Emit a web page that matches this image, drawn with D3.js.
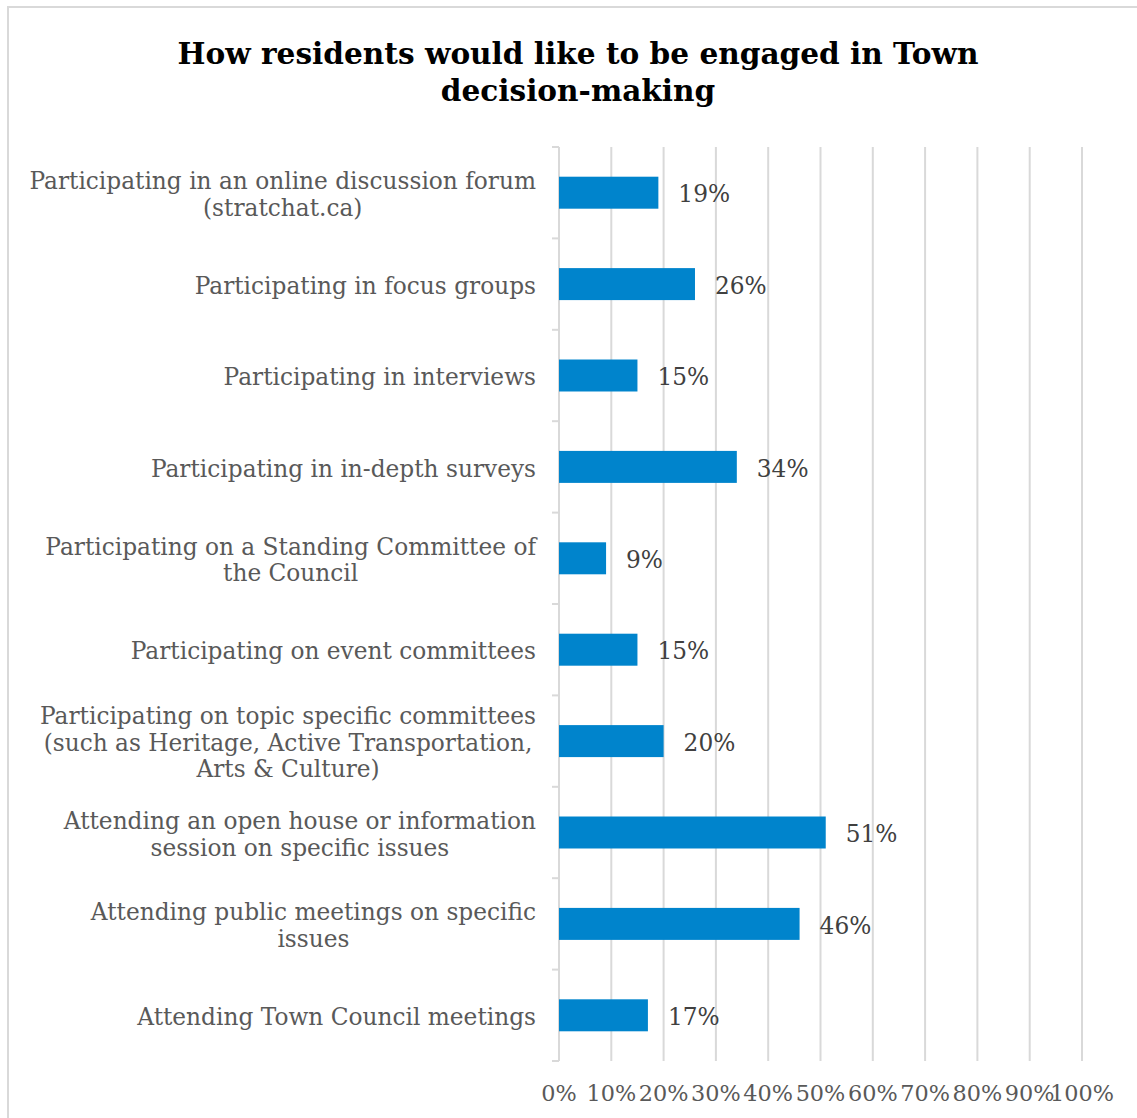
<!DOCTYPE html>
<html>
<head>
<meta charset="utf-8">
<script src="https://cdn.jsdelivr.net/npm/d3@7"></script>
<style>
  html, body { margin: 0; padding: 0; background: #fff; }
  svg { display: block; }
</style>
</head>
<body>
<svg id="chart" width="1137" height="1118"></svg>
<script>
// Survey responses: share of residents choosing each engagement method
const titleLines = ["How residents would like to be engaged in Town", "decision-making"];

const categories = [
  ["Participating in an online discussion forum", "(stratchat.ca)"],
  ["Participating in focus groups"],
  ["Participating in interviews"],
  ["Participating in in-depth surveys"],
  ["Participating on a Standing Committee of", "the Council"],
  ["Participating on event committees"],
  ["Participating on topic specific committees", "(such as Heritage, Active Transportation,", "Arts & Culture)"],
  ["Attending an open house or information", "session on specific issues"],
  ["Attending public meetings on specific", "issues"],
  ["Attending Town Council meetings"]
];

const values = [0.19, 0.26, 0.15, 0.34, 0.09, 0.15, 0.20, 0.51, 0.46, 0.17];

const tickValues = [0, 0.1, 0.2, 0.3, 0.4, 0.5, 0.6, 0.7, 0.8, 0.9, 1.0];

const svg = d3.select("#chart");
const serif = "'DejaVu Serif', 'Liberation Serif', serif";

// Outer chart frame
svg.append("rect")
  .attr("x", 8).attr("y", 7)
  .attr("width", 1160).attr("height", 1140)
  .attr("fill", "none")
  .attr("stroke", "#d9d9d9")
  .attr("stroke-width", 2);

// Plot area
const plot = { left: 559, right: 1082, top: 147, bottom: 1061 };

const x = d3.scaleLinear().domain([0, 1]).range([plot.left, plot.right]);
const y = d3.scaleBand()
  .domain(d3.range(categories.length))
  .range([plot.top, plot.bottom])
  .paddingInner(0.65)
  .paddingOuter(0.325);
const step = y.step();

// Font size helper: pick the size that gives a line a given width
function fitSize(text, family, weight, targetWidth, base) {
  const t = svg.append("text")
    .attr("font-family", family).attr("font-weight", weight)
    .attr("font-size", base).text(text);
  const w = t.node().getComputedTextLength();
  t.remove();
  return base * targetWidth / w;
}

const labelSize = fitSize(categories[0][0], serif, "normal", 507, 20);

// Vertical gridlines
svg.append("g")
  .selectAll("line")
  .data(tickValues.slice(1))
  .join("line")
  .attr("x1", d => x(d)).attr("x2", d => x(d))
  .attr("y1", plot.top).attr("y2", plot.bottom)
  .attr("stroke", "#d9d9d9")
  .attr("stroke-width", 2);

// Category axis with ticks at band boundaries
const axisG = svg.append("g");
axisG.append("line")
  .attr("x1", plot.left).attr("x2", plot.left)
  .attr("y1", plot.top).attr("y2", plot.bottom)
  .attr("stroke", "#d9d9d9").attr("stroke-width", 2);
axisG.selectAll("line.tick")
  .data(d3.range(categories.length + 1))
  .join("line")
  .attr("class", "tick")
  .attr("x1", plot.left - 7).attr("x2", plot.left)
  .attr("y1", i => plot.top + i * step)
  .attr("y2", i => plot.top + i * step)
  .attr("stroke", "#d9d9d9").attr("stroke-width", 2);

// Bars
svg.append("g")
  .selectAll("rect")
  .data(values)
  .join("rect")
  .attr("x", x(0))
  .attr("y", (d, i) => y(i))
  .attr("width", d => x(d) - x(0))
  .attr("height", y.bandwidth())
  .attr("fill", "#0084cc");

// Value labels
svg.append("g")
  .selectAll("text")
  .data(values)
  .join("text")
  .attr("x", d => x(d) + 20)
  .attr("y", (d, i) => y(i) + y.bandwidth() / 2)
  .attr("dy", "0.42em")
  .attr("font-family", serif)
  .attr("font-size", labelSize)
  .attr("fill", "#404040")
  .text(d => d3.format(".0%")(d));

// Category labels: centred lines, block right-aligned to the axis
const lineH = 26.5;
const catG = svg.append("g")
  .attr("font-family", serif)
  .attr("font-size", labelSize)
  .attr("fill", "#595959");
categories.forEach((lines, i) => {
  const cy = y(i) + y.bandwidth() / 2;
  const g = catG.append("g");
  const texts = lines.map((ln, j) => g.append("text")
    .attr("y", cy + (j - (lines.length - 1) / 2) * lineH)
    .attr("dy", "0.42em")
    .attr("text-anchor", "middle")
    .text(ln));
  const maxW = d3.max(texts, t => t.node().getComputedTextLength());
  texts.forEach(t => t.attr("x", 536 - maxW / 2));
});

// Value axis tick labels
svg.append("g")
  .selectAll("text")
  .data(tickValues)
  .join("text")
  .attr("x", d => x(d))
  .attr("y", 1092)
  .attr("dy", "0.42em")
  .attr("text-anchor", "middle")
  .attr("font-family", serif)
  .attr("font-size", labelSize * 0.96)
  .attr("fill", "#595959")
  .text(d => d3.format(".0%")(d));

// Title
const titleSize = fitSize(titleLines[0], serif, "bold", 801, 30);
const titleG = svg.append("g")
  .attr("font-family", serif)
  .attr("font-weight", "bold")
  .attr("font-size", titleSize)
  .attr("fill", "#000");
titleLines.forEach((ln, j) => {
  titleG.append("text")
    .attr("x", 578)
    .attr("y", 53 + j * 37)
    .attr("dy", "0.38em")
    .attr("text-anchor", "middle")
    .text(ln);
});
</script>
</body>
</html>
